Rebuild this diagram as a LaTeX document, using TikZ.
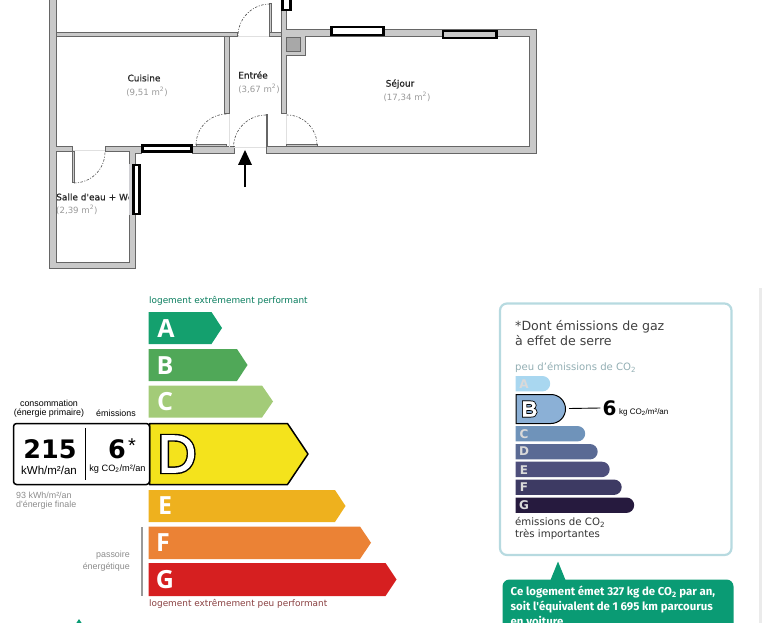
\documentclass[tikz,border=0pt]{standalone}
\usepackage{fontspec}
\setmainfont{DejaVu Sans}
\newfontfamily\arialfont{Liberation Sans}
\newfontfamily\firafont{Fira Sans}
\newfontfamily\openfont{Open Sans}
\newfontfamily\roomfont[FakeBold=0.6]{DejaVu Sans}
\newfontfamily\outerD[FakeBold=7.4]{Liberation Sans}
\newfontfamily\innerD[FakeBold=2]{Liberation Sans}
\newfontfamily\outerB[FakeBold=9,BoldFont={}]{Liberation Sans Bold}
\newfontfamily\innerB[FakeBold=1,BoldFont={}]{Liberation Sans Bold}
\usetikzlibrary{positioning}
\definecolor{wallgrey}{HTML}{C9C9C9}
\definecolor{walledge}{HTML}{666666}
\definecolor{roomgrey}{HTML}{A8A8A8}
\definecolor{classA}{HTML}{14A06E}
\definecolor{classB}{HTML}{50A858}
\definecolor{classC}{HTML}{A3CB78}
\definecolor{classD}{HTML}{F4E31C}
\definecolor{classE}{HTML}{EEB11E}
\definecolor{classF}{HTML}{EB8235}
\definecolor{classG}{HTML}{D61F20}
\definecolor{gasA}{HTML}{A9D7F0}
\definecolor{gasB}{HTML}{8BB0D6}
\definecolor{gasC}{HTML}{6F93BA}
\definecolor{gasD}{HTML}{5A6A94}
\definecolor{gasE}{HTML}{4E4F7C}
\definecolor{gasF}{HTML}{3D3A63}
\definecolor{gasG}{HTML}{261A3E}
\definecolor{frameblue}{HTML}{B7DAE0}
\definecolor{noteGreen}{HTML}{0A9B74}
\tikzset{
  wall/.style={fill=wallgrey,draw=walledge,line width=1pt},
  pane/.style={fill=white,draw=black,line width=2.4pt},
  leaf/.style={draw=walledge,line width=1pt,fill=wallgrey},
  swing/.style={draw=black!70,line width=0.6pt,dash pattern=on 2.5pt off 1.5pt on 1pt off 1.5pt},
  sill/.style={draw=black!12,line width=0.6pt},
  room/.style={font=\roomfont\fontsize{9}{11}\selectfont,text=black!85,inner sep=0pt},
  area/.style={font=\fontsize{8.6}{11}\selectfont,text=black!40,inner sep=0pt},
  barletter/.style={font=\openfont\bfseries\fontsize{25}{25}\selectfont,text=white,inner sep=0pt},
  smalltext/.style={font=\arialfont\fontsize{8.9}{10}\selectfont,inner sep=0pt},
  greytext/.style={font=\arialfont\fontsize{8.9}{10}\selectfont,text=black!45,inner sep=0pt},
  co2letter/.style={font=\bfseries\fontsize{12}{12}\selectfont,text=white!85!black,inner sep=0pt},
  panel/.style={font=\fontsize{12.6}{14}\selectfont,text=black!75,inner sep=0pt,anchor=west},
  notetext/.style={font=\firafont\bfseries\fontsize{11.4}{14}\selectfont,text=white,inner sep=0pt,anchor=west},
}
% energy class arrow: left, top, bottom, shoulder, tip
\newcommand{\classbar}[6]{\fill[#6] (#1,#2) -- (#4,#2) -- (#5,{(#2+#3)/2}) -- (#4,#3) -- (#1,#3) -- cycle;}
% co2 bar: left, top, bottom, right
\newcommand{\cotwobar}[5]{\fill[#5] (#1,#2) -- (#4-7.5,#2) arc[start angle=-90,end angle=90,radius=7.7] -- (#1,#3) -- cycle;}
\begin{document}
\begin{tikzpicture}[x=1pt,y=-1pt]
  \useasboundingbox (0,0) rectangle (782,623);
  % page edge on the right
  \fill[black!8] (759,288) rectangle (762,623);

  % Plan: rooms text first, walls go over it
  \node[room,anchor=west] (salle) at (56,197) {Salle d'eau + Wc};
  \node[area,anchor=west] (sallearea) at (56,210) {(2,39 m\textsuperscript{2})};
  \node[room] (cuisine) at (144,78) {Cuisine};
  \node[area] (cuisinearea) at (147,92) {(9,51 m\textsuperscript{2})};
  \node[room] (entree) at (253,75) {Entrée};
  \node[area] (entreearea) at (259,89) {(3,67 m\textsuperscript{2})};
  \node[room] (sejour) at (400,84) {Séjour};
  \node[area] (sejourarea) at (407,97) {(17,34 m\textsuperscript{2})};

  % Walls
  \draw[wall] (49.5,-2) -- (56,-2) -- (56,147) -- (72.5,147) -- (72.5,151.5) -- (56,151.5) -- (56,262) -- (129,262) -- (129,151.5) -- (105,151.5) -- (105,147) -- (141.5,147) -- (141.5,154) -- (135.5,154) -- (135.5,268) -- (49.5,268) -- cycle;
  \draw[wall] (56,32.5) rectangle (237.5,36.5);
  \draw[wall] (224.5,36.5) rectangle (229,114);
  \draw[wall] (269,32.5) rectangle (281,36.5);
  \draw[wall] (192,147) rectangle (234,154);
  \draw[wall] (281.5,-2) -- (286.5,-2) -- (286.5,29.5) -- (536.5,29.5) -- (536.5,154) -- (266,154) -- (266,147) -- (529.5,147) -- (529.5,36.5) -- (305,36.5) -- (305,55.5) -- (286.5,55.5) -- (286.5,114) -- (281.5,114) -- cycle;
  \draw[fill=roomgrey,draw=walledge,line width=0.8pt] (286,37) rectangle (300.5,51.5);

  % Windows
  \fill[blue!8!black!18] (129,164) rectangle (133,215);
  \draw[pane] (142.5,145.5) rectangle (191.5,151.5);
  \draw[pane] (133.5,165) rectangle (139.5,214);
  \draw[pane] (282.5,-2) rectangle (290.5,10);
  \draw[pane] (331.5,27) rectangle (383.5,35);
  \draw[pane,fill=wallgrey] (443,31) rectangle (496.5,38);

  % Doors
  \draw[sill] (238,36) -- (269,36);
  \draw[sill] (73,150) -- (105,150);
  \draw[sill] (229,114) -- (229,147) (234,147) -- (266,147);
  \draw[sill] (286,114) -- (286,146);
  \draw[leaf] (269,4) rectangle (271,33);
  \draw[swing] (270,4) arc[start angle=-90,end angle=-180,radius=32];
  \draw[leaf] (72.5,151.5) rectangle (74,183);
  \draw[swing] (74,183) arc[start angle=90,end angle=0,radius=31];
  \draw[leaf] (196,145) rectangle (226,147);
  \draw[swing] (196,145) arc[start angle=180,end angle=270,radius=31];
  \draw[leaf] (266,115) rectangle (267.5,147);
  \draw[swing] (266,115) arc[start angle=270,end angle=180,radius=32.5];
  \draw[leaf] (286,145) rectangle (317,147);
  \draw[swing] (317,145) arc[start angle=0,end angle=-90,radius=30];

  % Entry arrow
  \coordinate (arrowstart) at (245,187);
  \coordinate (arrowtip) at (245,164);
  \draw[line width=2.6pt] (arrowstart) -- (arrowtip);
  \fill (245,150) -- (252,165) -- (238,165) -- cycle;

  % Energy scale
  \node[inner sep=0pt,anchor=west,font=\fontsize{8.9}{11}\selectfont,text=noteGreen!80!black] (topnote) at (149,300.5) {logement extrêmement performant};
  \classbar{148.5}{312}{344}{211.5}{222}{classA}
  \classbar{148.5}{349}{381}{237}{247.5}{classB}
  \classbar{148.5}{385.5}{417.5}{262}{273}{classC}
  \classbar{148.5}{490}{522}{335}{345.5}{classE}
  \classbar{148.5}{526.5}{559}{360}{371}{classF}
  \classbar{148.5}{563}{596}{385.5}{396.5}{classG}
  \node[barletter] (letterA) at (166,329) {A};
  \node[barletter] (letterB) at (165,365.5) {B};
  \node[barletter] (letterC) at (165,402) {C};
  \node[barletter] (letterE) at (165,506) {E};
  \node[barletter] (letterF) at (163,543) {F};
  \node[barletter] (letterG) at (165,580) {G};

  % Current class D with its values
  \draw[fill=classD,draw=black,line width=1.5pt,line join=round] (149.5,423.5) -- (287.5,423.5) -- (308,454) -- (287.5,484.5) -- (149.5,484.5) -- cycle;
  \draw[fill=white,draw=black,line width=1.5pt,rounded corners=3pt] (149.5,423.5) -- (13.5,423.5) -- (13.5,484.5) -- (149.5,484.5) -- cycle;
  \draw[line width=1.2pt] (85.5,428) -- (85.5,480);
  \node[inner sep=0pt,font=\outerD\fontsize{53}{53}\selectfont,text=black] (dback) at (177,454) {D};
  \node[inner sep=0pt,font=\innerD\fontsize{53}{53}\selectfont,text=white] (dfront) at (177,454) {D};
  \node[inner sep=0pt,font=\bfseries\fontsize{25.5}{26}\selectfont] (cons) at (50,449) {215};
  \node[inner sep=0pt,font=\bfseries\fontsize{25.5}{26}\selectfont] (emis) at (117,449) {6};
  \node[inner sep=0pt,font=\arialfont\fontsize{20}{20}\selectfont] (star) at (132,446) {*};
  \node[inner sep=0pt,font=\arialfont\fontsize{11.5}{12}\selectfont] (consunit) at (49,470) {kWh/m²/an};
  \node[inner sep=0pt,font=\arialfont\fontsize{9.2}{12}\selectfont] (emisunit) at (117.5,469) {kg CO\textsubscript{2}/m²/an};
  \node[smalltext] (constitle) at (49,403) {consommation};
  \node[smalltext] (conssub) at (49,413) {(énergie primaire)};
  \node[smalltext] (emistitle) at (116,413) {émissions};
  \node[greytext,anchor=west] (finalA) at (16,495.5) {93 kWh/m²/an};
  \node[greytext,anchor=west] (finalB) at (16,505.5) {d'énergie finale};
  \node[greytext,anchor=east] (sieveA) at (130,555) {passoire};
  \node[greytext,anchor=east] (sieveB) at (130,567) {énergétique};
  \draw[black!40,line width=1.6pt] (142,527) -- (142,596);
  \node[inner sep=0pt,anchor=west,font=\fontsize{8.9}{11}\selectfont,text=classG!50!black!80] (lownote) at (149,604) {logement extrêmement peu performant};
  \fill[noteGreen] (79,619) -- (83,625) -- (75,625) -- cycle;

  % Greenhouse gas panel
  \draw[frameblue,line width=2.2pt,rounded corners=7pt] (500,303.5) rectangle (731.5,555);
  \node[panel] (gastitleA) at (515,326.5) {*Dont émissions de gaz};
  \node[panel] (gastitleB) at (515,341) {à effet de serre};
  \node[inner sep=0pt,anchor=west,font=\fontsize{10.1}{11}\selectfont,text=frameblue!80!black] (gaslow) at (515,367.5) {peu d'émissions de CO\textsubscript{2}};
  \cotwobar{515.5}{376}{391.4}{550}{gasA}
  \cotwobar{515.5}{426}{441.4}{585}{gasC}
  \cotwobar{515.5}{444}{459.4}{597.5}{gasD}
  \cotwobar{515.5}{461.7}{477.1}{609.5}{gasE}
  \cotwobar{515.5}{479.5}{494.9}{621.5}{gasF}
  \cotwobar{515.5}{497.5}{512.9}{634}{gasG}
  \draw[fill=gasB,draw=black,line width=1pt] (516,394.5) -- (551,394.5) arc[start angle=-90,end angle=90,radius=14.5] -- (516,423.5) -- cycle;
  \node[co2letter] (letterGasA) at (524,384) {A};
  \node[inner sep=0pt,font=\outerB\fontsize{22}{22}\selectfont,text=black] (gasBback) at (529.5,409) {B};
  \node[inner sep=0pt,font=\innerB\fontsize{22}{22}\selectfont,text=white] (gasBfront) at (529.5,409) {B};
  \node[co2letter] (letterGasC) at (524,434) {C};
  \node[co2letter] (letterGasD) at (524,451.5) {D};
  \node[co2letter] (letterGasE) at (524,470) {E};
  \node[co2letter] (letterGasF) at (524,487.5) {F};
  \node[co2letter] (letterGasG) at (524,505.5) {G};
  \coordinate (gasBtip) at (569,408.5);
  \node[inner sep=0pt,font=\bfseries\fontsize{20}{20}\selectfont] (gasval) at (609.5,408) {6};
  \draw[line width=0.9pt] (gasBtip) -- ([xshift=-2pt]gasval.west);
  \node[inner sep=0pt,anchor=west,font=\arialfont\fontsize{8}{10}\selectfont] (gasunit) at (619,412) {kg CO\textsubscript{2}/m²/an};
  \node[inner sep=0pt,anchor=west,font=\fontsize{10.2}{12}\selectfont,text=black!80] (gashighA) at (515,522.5) {émissions de CO\textsubscript{2}};
  \node[inner sep=0pt,anchor=west,font=\fontsize{10.2}{12}\selectfont,text=black!80] (gashighB) at (515,534) {très importantes};

  % Green note, cut by the page
  \fill[noteGreen] (558,561.5) -- (565.5,580) -- (550.5,580) -- cycle;
  \fill[noteGreen,rounded corners=7pt] (502.5,579.5) rectangle (733.5,640);
  \node[notetext] (noteA) at (510.5,592.5) {Ce logement émet 327 kg de CO\textsubscript{2} par an,};
  \node[notetext] (noteB) at (510.5,607) {soit l'équivalent de 1 695 km parcourus};
  \node[notetext] (noteC) at (510.5,621) {en voiture.};
\end{tikzpicture}
\end{document}
